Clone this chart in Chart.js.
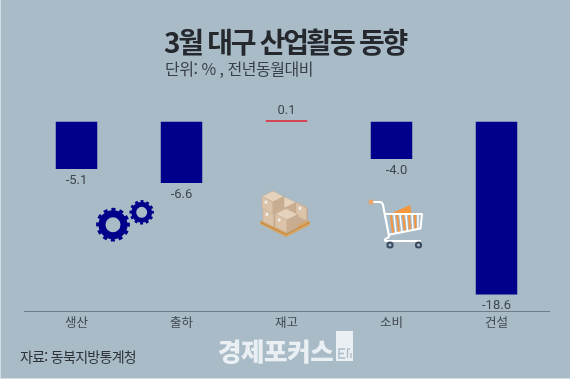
<!DOCTYPE html>
<html lang="ko">
<head>
<meta charset="utf-8">
<title>3월 대구 산업활동 동향</title>
<script src="https://cdn.jsdelivr.net/npm/chart.js@4"></script>
<style>
    html, body { margin: 0; padding: 0; }
    body { width: 570px; height: 379px; background: #a8bbc7; overflow: hidden; position: relative; font-family: 'Noto Sans CJK KR', sans-serif; }
    #chart { position: absolute; left: 0; top: 0; }
    .txt { position: absolute; white-space: nowrap; line-height: 1; }
    .edge { position: absolute; background: #d3dee5; }
    #title { left: 164px; top: 27px; font-size: 28px; font-weight: 700; color: #25292e; letter-spacing: -2.3px; }
    #unit { left: 165px; top: 60px; font-size: 16px; color: #3a4049; letter-spacing: -0.5px; }
    #source { left: 20px; top: 349px; font-size: 14px; color: #2e333a; letter-spacing: -0.7px; }
    #brand { left: 218px; top: 337px; font-size: 25.5px; font-weight: 900; color: #e9eff3; letter-spacing: -0.4px; }
    svg { position: absolute; left: 0; top: 0; }
</style>
</head>
<body>
<canvas id="chart" width="570" height="379"></canvas>
<div class="edge" style="left:0;top:0;width:1px;height:379px"></div>
<div class="edge" style="left:0;top:378px;width:570px;height:1px"></div>
<svg id="art" width="570" height="379" viewBox="0 0 570 379">
    <!-- gears -->
    <g fill="none" stroke="#00008b">
        <circle cx="113" cy="224.7" r="11" stroke-width="7"/>
        <circle cx="113" cy="224.7" r="15.3" stroke-width="3.2" stroke-dasharray="4 4.01" transform="rotate(-7.5 113 224.7)"/>
        <circle cx="141.7" cy="212.3" r="8" stroke-width="5"/>
        <circle cx="141.7" cy="212.3" r="10.9" stroke-width="2.6" stroke-dasharray="2.85 2.86" transform="rotate(-7.5 141.7 212.3)"/>
    </g>
    <!-- pallet -->
    <polygon points="260,222 286,209 310,222 310,225 286,237 260,224" fill="#d9a45e"/>
    <polyline points="260,222 286,234.5 310,222" fill="none" stroke="#bd8542" stroke-width="1"/>
    <g id="boxes"></g>
    <!-- shopping cart -->
    <polygon points="390,214 410,205 412,215" fill="#f7963c"/>
    <g fill="none" stroke="#f7963c" stroke-width="2">
        <line x1="391" y1="215" x2="393" y2="233"/>
        <line x1="397" y1="215" x2="399" y2="232"/>
        <line x1="403" y1="215" x2="405" y2="231"/>
        <line x1="409" y1="215" x2="410" y2="230"/>
        <line x1="415" y1="215" x2="415.5" y2="229"/>
    </g>
    <g fill="none" stroke="#fff" stroke-linejoin="round" stroke-linecap="round">
        <path d="M373,202 H380 Q382,202 383,205 L389,236 Q389,238 386,238.5 Q383,241 387,241 H420" stroke-width="2.2"/>
        <path d="M385,214 H422 L420.5,228.5 L390,234.5" stroke-width="2"/>
        <path d="M394,215 L396,233 M400,215 L402,232 M406,215 L407.5,231 M412,215 L413,230 M418,215 L418,229" stroke-width="1.5"/>
    </g>
    <circle cx="371" cy="202" r="2.2" fill="#f3a76b" stroke="#e8955a" stroke-width="0.6"/>
    <g fill="#a8bbc7" stroke="#3a4a60" stroke-width="2">
        <circle cx="390" cy="245" r="2.6"/>
        <circle cx="418.5" cy="245" r="2.6"/>
    </g>
    <!-- brand logo box -->
    <rect x="336" y="331" width="17" height="30" fill="#e9eff3"/>
    <path d="M345,349 H339 V358 H345 M339,353.5 H344 M347.5,349 H350 M347.5,349 V358 M351,353 V358" fill="none" stroke="#a8bbc7" stroke-width="1.3"/>
</svg>
<div class="txt" id="title">3월 대구 산업활동 동향</div>
<div class="txt" id="unit">단위: % , 전년동월대비</div>
<div class="txt" id="source">자료: 동북지방통계청</div>
<div class="txt" id="brand">경제포커스</div>
<script>
document.addEventListener('DOMContentLoaded', function() {
    const categories = ['생산', '출하', '재고', '소비', '건설'];
    const changes = [-5.1, -6.6, 0.1, -4.0, -18.6];
    const valueLabels = ['-5.1', '-6.6', '0.1', '-4.0', '-18.6'];

    const NAVY = '#00008b';
    const RED = '#e0202c';

    // Stack of cartons for the 재고 icon, drawn back to front
    function carton(x, y, w, d, h) {
        const art = document.getElementById('boxes');
        const lx = x - w, ly = y - w * 0.5;
        const rx = x + d, ry = y - d * 0.5;
        const bx = x - w + d, by = y - (w + d) * 0.5;
        const faces = [
            [[x, y - h], [lx, ly - h], [bx, by - h], [rx, ry - h], '#e4d2bd'],
            [[x, y], [lx, ly], [lx, ly - h], [x, y - h], '#dac3a9'],
            [[x, y], [rx, ry], [rx, ry - h], [x, y - h], '#c8ad90']
        ];
        faces.forEach(f => {
            const p = document.createElementNS('http://www.w3.org/2000/svg', 'polygon');
            p.setAttribute('points', f.slice(0, 4).map(q => q.join(',')).join(' '));
            p.setAttribute('fill', f[4]);
            p.setAttribute('stroke', '#bfa488');
            p.setAttribute('stroke-width', '0.4');
            art.appendChild(p);
        });
        const tag = document.createElementNS('http://www.w3.org/2000/svg', 'rect');
        tag.setAttribute('x', x - w * 0.75);
        tag.setAttribute('y', y - h * 0.75 - w * 0.4);
        tag.setAttribute('width', 2.4);
        tag.setAttribute('height', 3);
        tag.setAttribute('fill', '#f3eee8');
        art.appendChild(tag);
    }
    carton(296, 226, 11, 11, 13);
    carton(285, 221, 11, 11, 13);
    carton(307, 221, 11, 0.1, 13);
    carton(274, 227, 11, 11, 13);
    carton(287, 233, 12, 11, 13);
    carton(273, 214, 11, 11, 12);

    // value labels sit just past the end of each bar, -4.0 is nudged right in the original
    const barLabels = {
        id: 'barLabels',
        afterDatasetsDraw(chart) {
            const ctx = chart.ctx;
            const meta = chart.getDatasetMeta(0);
            ctx.save();
            ctx.font = '13px Roboto, sans-serif';
            ctx.fillStyle = '#3f4652';
            ctx.textAlign = 'center';
            ctx.textBaseline = 'middle';
            meta.data.forEach((bar, i) => {
                const down = changes[i] < 0;
                const nudge = i === 3 ? 5 : 0;
                ctx.fillText(valueLabels[i], bar.x + nudge, bar.y + (down ? 11.5 : -9));
            });
            ctx.restore();
        }
    };

    new Chart(document.getElementById('chart').getContext('2d'), {
        type: 'bar',
        data: {
            labels: categories,
            datasets: [{
                data: changes,
                backgroundColor: changes.map(v => v < 0 ? NAVY : RED),
                barPercentage: 0.395,
                categoryPercentage: 1,
                minBarLength: 1.5
            }]
        },
        options: {
            responsive: false,
            animation: false,
            layout: { padding: { left: 24, right: 21, top: 110, bottom: 0 } },
            plugins: { legend: { display: false }, tooltip: { enabled: false } },
            scales: {
                x: {
                    position: 'bottom',
                    grid: { display: false, drawTicks: false },
                    border: { color: '#6e7b89' },
                    ticks: {
                        padding: 3,
                        color: '#3f4652',
                        font: { family: "'Noto Sans CJK KR', sans-serif", size: 12.5 }
                    },
                    afterFit(scale) { scale.height = 67.3; }
                },
                y: { display: false, min: -20.44, max: 1.26 }
            }
        },
        plugins: [barLabels]
    });
});
</script>
</body>
</html>
